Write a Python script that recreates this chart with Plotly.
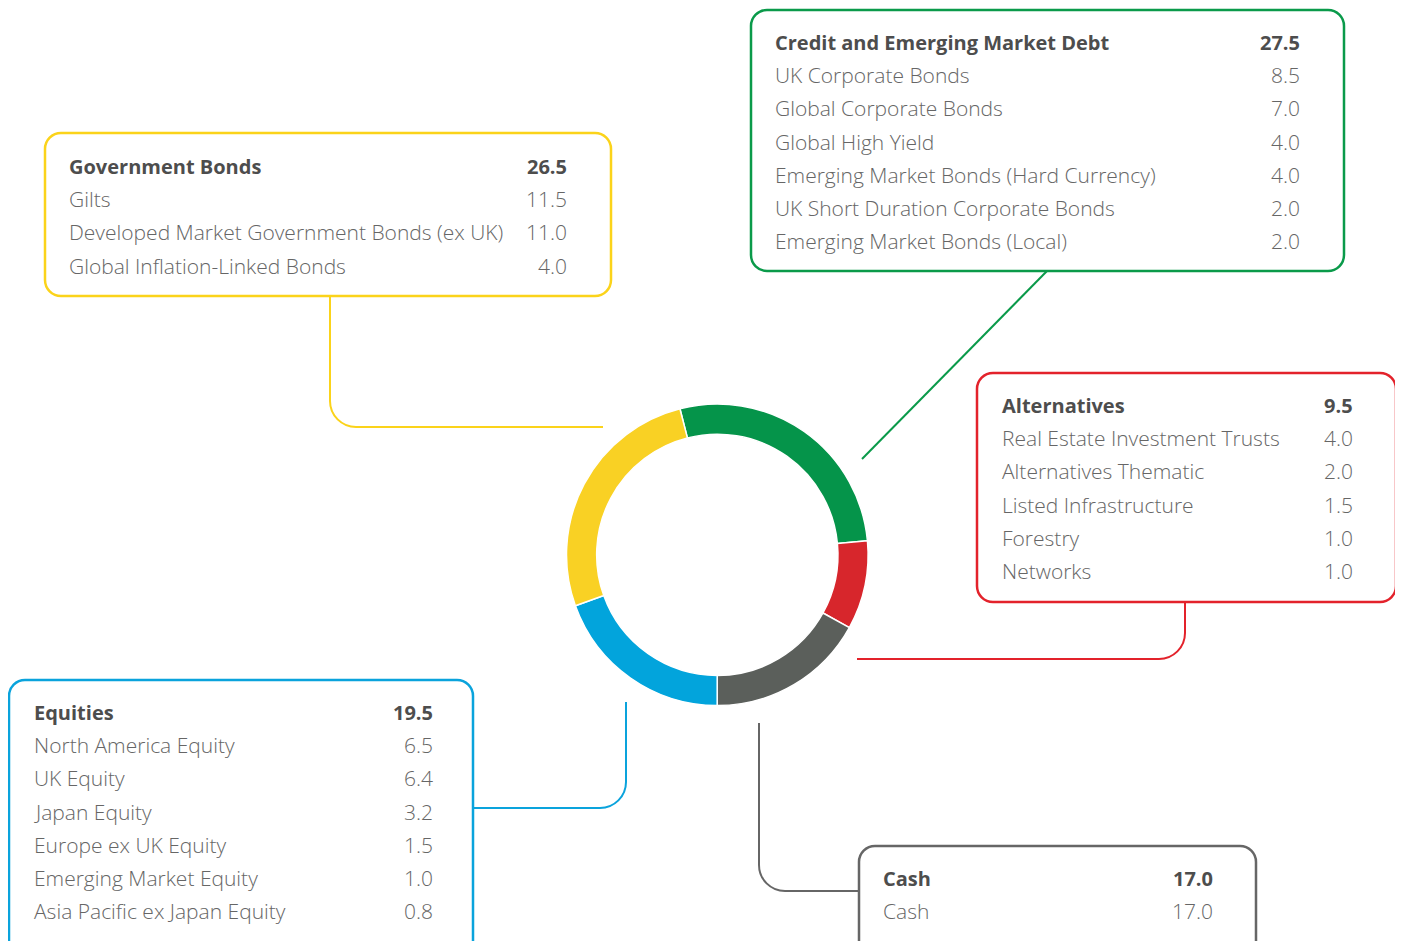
import plotly.graph_objects as go

# ---------------- data ----------------
groups = ["Credit and Emerging Market Debt", "Alternatives", "Cash", "Equities", "Government Bonds"]
totals = [27.5, 9.5, 17.0, 19.5, 26.5]

credit_names = ["UK Corporate Bonds", "Global Corporate Bonds", "Global High Yield",
                "Emerging Market Bonds (Hard Currency)", "UK Short Duration Corporate Bonds",
                "Emerging Market Bonds (Local)"]
credit_values = [8.5, 7.0, 4.0, 4.0, 2.0, 2.0]

alt_names = ["Real Estate Investment Trusts", "Alternatives Thematic", "Listed Infrastructure",
             "Forestry", "Networks"]
alt_values = [4.0, 2.0, 1.5, 1.0, 1.0]

cash_names = ["Cash"]
cash_values = [17.0]

equity_names = ["North America Equity", "UK Equity", "Japan Equity", "Europe ex UK Equity",
                "Emerging Market Equity", "Asia Pacific ex Japan Equity"]
equity_values = [6.5, 6.4, 3.2, 1.5, 1.0, 0.8]

gov_names = ["Gilts", "Developed Market Government Bonds (ex UK)", "Global Inflation-Linked Bonds"]
gov_values = [11.5, 11.0, 4.0]

# ---------------- styles ----------------
W, H = 1403, 941
OFF = 8  # page body margin compensation
slice_colors = ["#05944A", "#D7262C", "#5B5F5B", "#02A4DC", "#F9D124"]
border_colors = ["#0A9A4A", "#E3222B", "#666666", "#0AA3DC", "#FBD31A"]
FONT = "Open Sans"
HEAD_COLOR = "#4d4d4d"
ITEM_COLOR = "#666666"
FS_HEAD = 20
FS_ITEM = 21
ROW = 33.2
PAD = 2

# box layout: (x0, y0, x1, y1, text_left, value_right, first_row_y)
boxes = [
    (751, 10, 1344, 271, 775, 1300, 42),
    (977, 373, 1396, 602, 1002, 1353, 405),
    (859, 846, 1256, 960, 883, 1213, 878),
    (9, 680, 473, 960, 34, 433, 712),
    (45, 133, 611, 296, 69, 567, 166),
]
sub_names = [credit_names, alt_names, cash_names, equity_names, gov_names]
sub_values = [credit_values, alt_values, cash_values, equity_values, gov_values]

K = 0.5523


def rounded_rect(x0, y0, x1, y1, r):
    k = r * K
    return (f"M {x0+r},{y0} L {x1-r},{y0} C {x1-r+k},{y0} {x1},{y0+r-k} {x1},{y0+r} "
            f"L {x1},{y1-r} C {x1},{y1-r+k} {x1-r+k},{y1} {x1-r},{y1} "
            f"L {x0+r},{y1} C {x0+r-k},{y1} {x0},{y1-r+k} {x0},{y1-r} "
            f"L {x0},{y0+r} C {x0},{y0+r-k} {x0+r-k},{y0} {x0+r},{y0} Z")


def elbow(pts, r):
    (xa, ya), (xc, yc), (xb, yb) = pts
    def toward(px, py, qx, qy, d):
        dx, dy = qx - px, qy - py
        L = (dx * dx + dy * dy) ** 0.5
        return px + dx / L * d, py + dy / L * d
    p1 = toward(xc, yc, xa, ya, r)
    p2 = toward(xc, yc, xb, yb, r)
    c1 = toward(p1[0], p1[1], xc, yc, r * K)
    c2 = toward(p2[0], p2[1], xc, yc, r * K)
    return (f"M {xa},{ya} L {p1[0]},{p1[1]} C {c1[0]},{c1[1]} {c2[0]},{c2[1]} {p2[0]},{p2[1]} "
            f"L {xb},{yb}")


connectors = [
    ("line", (1047, 271, 862, 459)),
    ("elbow", [(1185, 602), (1185, 659), (857, 659)]),
    ("elbow", [(759, 723), (759, 891), (859, 891)]),
    ("elbow", [(473, 808), (626, 808), (626, 702)]),
    ("elbow", [(330, 296), (330, 427), (603, 427)]),
]

fig = go.Figure()

cx, cy, R = 717.3, 554.8, 150.8
fig.add_trace(go.Pie(
    labels=groups, values=totals, sort=False, direction="clockwise", rotation=-14.35,
    hole=0.80, textinfo="none", hoverinfo="label+value",
    marker=dict(colors=slice_colors, line=dict(color="white", width=1.5)),
    domain=dict(x=[(cx - OFF - R) / W, (cx - OFF + R) / W],
                y=[1 - (cy - OFF + R) / H, 1 - (cy - OFF - R) / H]),
    showlegend=False,
))

shapes = []
annotations = []
for i, g in enumerate(groups):
    x0, y0, x1, y1, tl, vr, ry = boxes[i]
    col = border_colors[i]
    kind, geo = connectors[i]
    if kind == "line":
        shapes.append(dict(type="line", xref="x", yref="y", x0=geo[0], y0=geo[1], x1=geo[2], y1=geo[3],
                           line=dict(color=col, width=2), layer="below"))
    else:
        shapes.append(dict(type="path", xref="x", yref="y", path=elbow(geo, 26),
                           line=dict(color=col, width=2), layer="below"))
    shapes.append(dict(type="path", xref="x", yref="y", path=rounded_rect(x0, y0, x1, y1, 16),
                       line=dict(color=col, width=2.5), fillcolor="white", layer="below"))
    rows = [(g, totals[i], True)] + [(n, v, False) for n, v in zip(sub_names[i], sub_values[i])]
    for j, (name, val, bold) in enumerate(rows):
        yy = ry + j * ROW
        f = dict(family=FONT, size=FS_HEAD if bold else FS_ITEM,
                 color=HEAD_COLOR if bold else ITEM_COLOR,
                 weight=700 if bold else 300)
        annotations.append(dict(x=tl - PAD, y=yy, xref="x", yref="y", text=name, showarrow=False,
                                xanchor="left", yanchor="middle", font=f))
        annotations.append(dict(x=vr + PAD, y=yy, xref="x", yref="y", text=f"{val:.1f}", showarrow=False,
                                xanchor="right", yanchor="middle", font=f))

fig.update_layout(
    width=W, height=H, margin=dict(l=0, r=0, t=0, b=0),
    paper_bgcolor="white", plot_bgcolor="rgba(0,0,0,0)",
    xaxis=dict(range=[OFF, W + OFF], visible=False, fixedrange=True),
    yaxis=dict(range=[H + OFF, OFF], visible=False, fixedrange=True),
    shapes=shapes, annotations=annotations,
)

fig.write_html("out.html")
